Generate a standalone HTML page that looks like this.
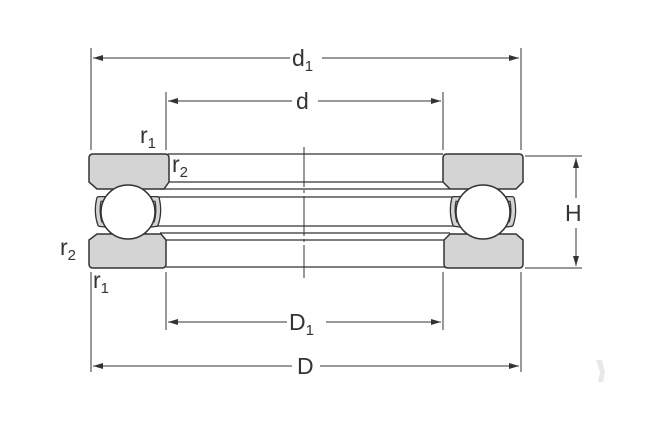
<!DOCTYPE html>
<html><head><style>body{margin:0;background:#fff}</style></head><body>
<svg width="648" height="422" xmlns="http://www.w3.org/2000/svg" font-family="Liberation Sans, sans-serif" fill="none" stroke="#333">
<defs><marker id="a" markerWidth="10" markerHeight="6" refX="10" refY="3" orient="auto-start-reverse"><path d="M0,0L10,3L0,6z" fill="#333" stroke="none"/></marker></defs>
<g stroke-width="1">
<line x1="91" y1="48" x2="91" y2="150"/><line x1="521" y1="48" x2="521" y2="150"/>
<line x1="166" y1="92" x2="166" y2="150"/><line x1="443" y1="92" x2="443" y2="150"/>
<line x1="91" y1="272" x2="91" y2="372"/><line x1="521" y1="272" x2="521" y2="372"/>
<line x1="166" y1="272" x2="166" y2="330"/><line x1="443" y1="272" x2="443" y2="330"/>
<line x1="93" y1="58" x2="290" y2="58" marker-start="url(#a)"/><line x1="322" y1="58" x2="519" y2="58" marker-end="url(#a)"/>
<line x1="168" y1="101" x2="292" y2="101" marker-start="url(#a)"/><line x1="318" y1="101" x2="441" y2="101" marker-end="url(#a)"/>
<line x1="168" y1="322" x2="287" y2="322" marker-start="url(#a)"/><line x1="326" y1="322" x2="441" y2="322" marker-end="url(#a)"/>
<line x1="93" y1="366" x2="292" y2="366" marker-start="url(#a)"/><line x1="320" y1="366" x2="519" y2="366" marker-end="url(#a)"/>
<line x1="525" y1="156" x2="582" y2="156"/><line x1="525" y1="268" x2="582" y2="268"/>
<line x1="576" y1="158" x2="576" y2="198" marker-start="url(#a)"/><line x1="576" y1="228" x2="576" y2="266" marker-end="url(#a)"/>
<line x1="304" y1="147" x2="304" y2="278" stroke-dasharray="40 3 3 3"/>
<g stroke-width="1.2">
<line x1="168" y1="154" x2="443" y2="154"/><line x1="168" y1="182" x2="443" y2="182"/>
<line x1="160" y1="189" x2="450" y2="189"/><line x1="155" y1="197" x2="455" y2="197"/>
<line x1="155" y1="226" x2="455" y2="226"/><line x1="160" y1="233" x2="450" y2="233"/>
<line x1="166" y1="240" x2="445" y2="240"/><line x1="166" y1="267" x2="445" y2="267"/>
</g>
</g>
<g fill="#d4d4d4" stroke="#333" stroke-width="1.5">
<path d="M93,154H165Q169,154 169,158V182L164,189H97L89,182V158Q89,154 93,154Z"/>
<path d="M97,234H161L166,240V264Q166,268 162,268H93Q89,268 89,264V240Z"/>
<path d="M447,154H519Q523,154 523,158V182L516,189H450L443,182V158Q443,154 447,154Z"/>
<path d="M450,234H516L523,240V264Q523,268 519,268H448Q444,268 444,264V240Z"/>
</g>
<g stroke-linejoin="round" stroke-linecap="round">
<g stroke="#333" stroke-width="6">
<path d="M106,199H99Q96,212 100,224L108,225"/>
<path d="M150,199H157Q160,212 156,224L148,225"/>
<path d="M461,199H454Q451,212 455,224L463,225"/>
<path d="M505,199H512Q515,212 511,224L503,225"/>
</g>
<g stroke="#d4d4d4" stroke-width="3.5">
<path d="M106,199H99Q96,212 100,224L108,225"/>
<path d="M150,199H157Q160,212 156,224L148,225"/>
<path d="M461,199H454Q451,212 455,224L463,225"/>
<path d="M505,199H512Q515,212 511,224L503,225"/>
</g>
</g>
<g fill="#fff" stroke="#333" stroke-width="1.5"><circle cx="128" cy="212" r="27"/><circle cx="483" cy="212" r="27"/></g>
<g fill="#333" stroke="none" font-size="23">
<text x="292" y="66">d<tspan font-size="15" dy="5">1</tspan></text>
<text x="296" y="109">d</text>
<text x="289" y="330">D<tspan font-size="15" dy="5">1</tspan></text>
<text x="297" y="374">D</text>
<text x="565" y="221">H</text>
<text x="140" y="143">r<tspan font-size="15" dy="5">1</tspan></text>
<text x="172" y="172">r<tspan font-size="15" dy="5">2</tspan></text>
<text x="60" y="255">r<tspan font-size="15" dy="5">2</tspan></text>
<text x="93" y="288">r<tspan font-size="15" dy="5">1</tspan></text>
</g>
<path d="M596,360L602,360L605,372L603,382L598,382L600,372Z" fill="#e8e8e8" stroke="none"/>
</svg>
</body></html>
